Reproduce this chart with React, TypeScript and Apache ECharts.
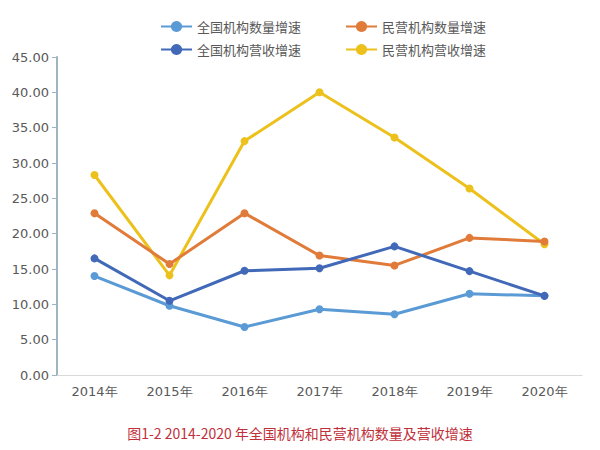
import React, { useEffect, useRef } from "react";
import * as echarts from "echarts";

const categories = ["2014年", "2015年", "2016年", "2017年", "2018年", "2019年", "2020年"];
const nationalCount = [14.0, 9.8, 6.8, 9.3, 8.6, 11.5, 11.2];
const privateCount = [22.9, 15.7, 22.9, 16.9, 15.5, 19.4, 18.9];
const nationalRevenue = [16.5, 10.5, 14.75, 15.1, 18.2, 14.7, 11.2];
const privateRevenue = [28.3, 14.1, 33.1, 40.0, 33.6, 26.4, 18.5];
const seriesNames = ["全国机构数量增速", "民营机构数量增速", "全国机构营收增速", "民营机构营收增速"];
const caption = "图1-2 2014-2020 年全国机构和民营机构数量及营收增速";

const colors = ["#5B9BD5", "#E07B39", "#4169B8", "#EDC11C"];

export default function App() {
  const ref = useRef<HTMLDivElement>(null);
  useEffect(() => {
    if (!ref.current) return;
    const chart = echarts.init(ref.current, null, { renderer: "svg" });
    const dataSets = [nationalCount, privateCount, nationalRevenue, privateRevenue];
    const legendText = { fontSize: 13, color: "#595959", fontFamily: "Noto Sans CJK SC" };
    chart.setOption({
      animation: false,
      backgroundColor: "#ffffff",
      title: {
        text: caption,
        left: "center",
        top: 421,
        textStyle: { fontSize: 14, fontWeight: "normal", color: "#C0303A", fontFamily: "Noto Sans CJK SC" },
      },
      legend: [
        {
          data: [seriesNames[0], seriesNames[2]],
          orient: "vertical",
          left: 155,
          top: 15,
          itemWidth: 31,
          itemHeight: 14,
          itemGap: 10,
          textStyle: legendText,
        },
        {
          data: [seriesNames[1], seriesNames[3]],
          orient: "vertical",
          left: 340,
          top: 15,
          itemWidth: 31,
          itemHeight: 14,
          itemGap: 10,
          textStyle: legendText,
        },
      ],
      grid: { left: 57, right: 18, top: 57, bottom: 75, containLabel: false },
      xAxis: {
        type: "category",
        data: categories,
        boundaryGap: true,
        axisLine: { lineStyle: { color: "#D9D9D9", width: 1 } },
        axisTick: { show: false },
        axisLabel: { fontSize: 13, color: "#595959", fontFamily: "DejaVu Sans", margin: 10 },
      },
      yAxis: {
        type: "value",
        min: 0,
        max: 45,
        interval: 5,
        axisLine: { show: true, lineStyle: { color: "#9FB4C0", width: 2 } },
        axisTick: { show: true, length: 5, lineStyle: { color: "#9FB4C0" } },
        splitLine: { show: false },
        axisLabel: {
          fontSize: 13,
          color: "#595959",
          fontFamily: "DejaVu Sans",
          margin: 8,
          formatter: (v: number) => v.toFixed(2),
        },
      },
      series: seriesNames.map((name, i) => ({
        name,
        type: "line",
        data: dataSets[i],
        symbol: "circle",
        symbolSize: 8,
        z: i === 3 ? 1 : 2 + i,
        itemStyle: { color: colors[i] },
        lineStyle: { color: colors[i], width: 3 },
      })),
    });
    return () => chart.dispose();
  }, []);
  return <div ref={ref} style={{ width: 600, height: 450, position: "absolute", left: 0, top: 0 }} />;
}
